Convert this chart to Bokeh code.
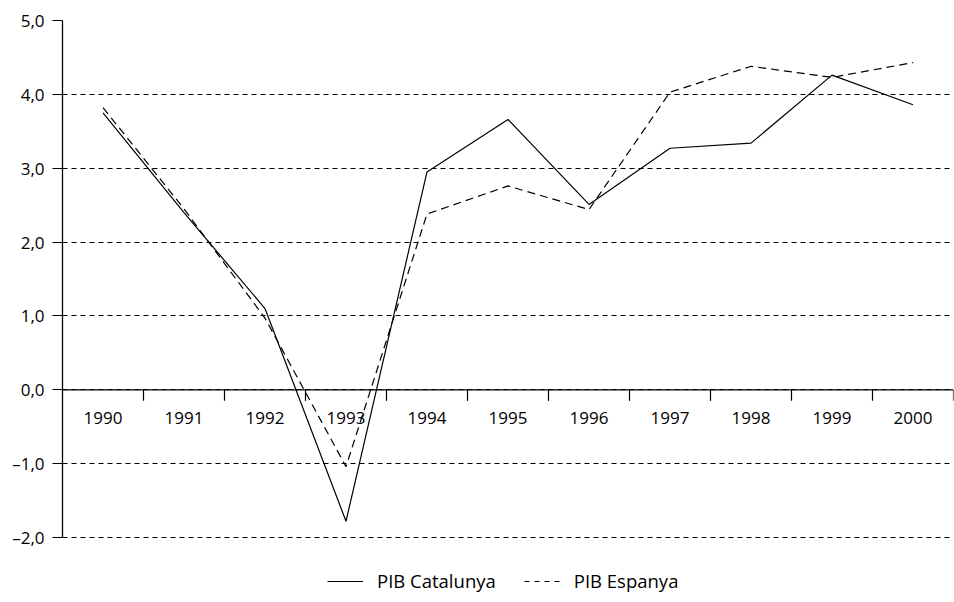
from bokeh.plotting import figure
from bokeh.models import (ColumnDataSource, FixedTicker, Span, Legend, LegendItem, Range1d)
from bokeh.core.properties import value
from bokeh.embed import file_html
from bokeh.resources import INLINE

years = ["1990", "1991", "1992", "1993", "1994", "1995", "1996", "1997", "1998", "1999", "2000"]
pib_catalunya = [3.75, 2.40, 1.10, -1.78, 2.95, 3.66, 2.51, 3.27, 3.34, 4.26, 3.86]
pib_espanya = [3.82, 2.45, 0.97, -1.04, 2.38, 2.76, 2.44, 4.03, 4.38, 4.23, 4.43]
y_ticks = [-2, -1, 0, 1, 2, 3, 4, 5]

FONT = "Open Sans"
FS = "17px"
LEG_FS = "18.5px"

W, H = 954, 602
TOP, LEFT, RIGHT, BOTTOM = 20, 62, 1, 2
AX_LO, AX_HI = -2, 5
PX_AXIS = 517  # pixel height from 5,0 to -2,0
frame_h = H - TOP - BOTTOM
y_lo = AX_HI - frame_h * (AX_HI - AX_LO) / PX_AXIS

n = len(years)
xc = [i + 0.5 for i in range(n)]
src = ColumnDataSource(dict(x=xc, year=years, cat=pib_catalunya, esp=pib_espanya, zero=[0] * n))

p = figure(width=W, height=H, output_backend="svg", toolbar_location=None,
           x_range=Range1d(0, n), y_range=Range1d(y_lo, AX_HI),
           x_axis_location=None, min_border_left=LEFT, min_border_right=RIGHT,
           min_border_top=TOP, min_border_bottom=BOTTOM)
p.outline_line_color = None
p.xgrid.visible = False
p.ygrid.ticker = FixedTicker(ticks=y_ticks)
p.ygrid.grid_line_color = "black"
p.ygrid.grid_line_dash = "5 4"
p.ygrid.grid_line_width = 1

ax = p.yaxis[0]
ax.ticker = FixedTicker(ticks=y_ticks)
ax.bounds = (AX_LO, AX_HI)
ax.major_label_overrides = {t: f"{t:.1f}".replace(".", ",").replace("-", "\u2013") for t in y_ticks}
ax.major_tick_in = 0
ax.major_tick_out = 10
ax.minor_tick_out = 0
ax.minor_tick_in = 0
ax.axis_line_color = "black"
ax.axis_line_width = 1.3
ax.major_tick_line_color = "black"
ax.major_tick_line_width = 1.2
ax.major_label_text_font = FONT
ax.major_label_text_font_size = FS
ax.major_label_text_color = "black"
ax.major_label_standoff = 8

# zero axis line
p.add_layout(Span(location=0, dimension="width", line_color="black", line_width=1.3))

# category boundary ticks on zero line
bounds = list(range(1, n + 1))
p.segment(x0=bounds, y0=[0] * len(bounds), x1=bounds, y1=[-0.15] * len(bounds),
          line_color="black", line_width=1.2)

# category labels
p.text(x="x", y="zero", text="year", source=src, text_align="center", text_baseline="middle",
       y_offset=28, text_font=value(FONT), text_font_size=FS, text_color="black")

r1 = p.line(x="x", y="cat", source=src, line_color="black", line_width=1.2)
r2 = p.line(x="x", y="esp", source=src, line_color="black", line_width=1.2, line_dash="8 5")
# zero-length segments (invisible) to provide a short-dash legend sample
r2_leg = p.segment(x0="x", y0="esp", x1="x", y1="esp", source=src, line_color="black",
                   line_width=1.2, line_dash="5 5", line_cap="butt")

legend = Legend(items=[LegendItem(label="PIB Catalunya", renderers=[r1]),
                       LegendItem(label="PIB Espanya", renderers=[r2_leg])],
                orientation="horizontal", location=(265, 7),
                glyph_width=36, glyph_height=20, label_standoff=14, spacing=28,
                label_text_font=FONT, label_text_font_size=LEG_FS, label_text_color="black",
                border_line_color=None, background_fill_alpha=0,
                margin=0, padding=0, label_height=20)
p.add_layout(legend, "center")

open("out.html", "w").write(file_html(p, INLINE))
